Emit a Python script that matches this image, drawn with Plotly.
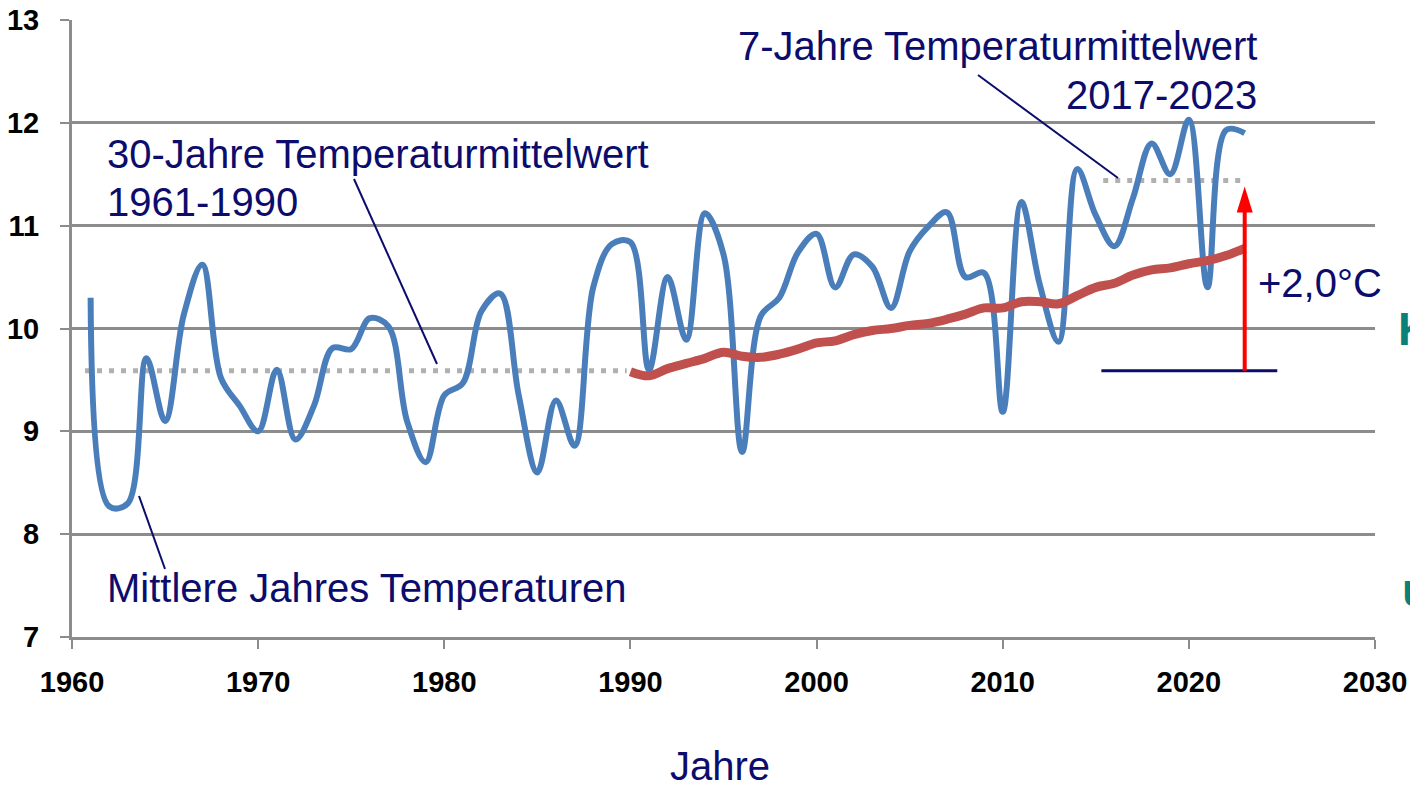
import plotly.graph_objects as go

# ---- data -------------------------------------------------------------
years = list(range(1961, 2024))
annual_temp = [10.30, 8.27, 8.30, 9.71, 9.10, 10.13, 10.62, 9.52, 9.25, 9.00,
               9.60, 8.92, 9.25, 9.81, 9.80, 10.10, 10.02, 9.10, 8.70, 9.35,
               9.47, 10.17, 10.34, 9.35, 8.60, 9.30, 8.86, 10.40, 10.82, 10.84,
               9.60, 10.50, 9.89, 11.12, 10.72, 8.80, 10.12, 10.30, 10.74, 10.92,
               10.40, 10.72, 10.60, 10.20, 10.75, 10.99, 11.13, 10.50, 10.54, 9.19,
               11.23, 10.42, 9.87, 11.55, 11.10, 10.80, 11.27, 11.80, 11.50, 12.03,
               10.40, 11.93, 11.90]

trend_years = list(range(1990, 2024))
trend_temp = [9.58, 9.54, 9.61, 9.66, 9.71, 9.77, 9.73, 9.72, 9.75, 9.80,
              9.86, 9.88, 9.94, 9.98, 10.00, 10.03, 10.05, 10.09, 10.14, 10.20,
              10.20, 10.26, 10.26, 10.24, 10.32, 10.40, 10.44, 10.52, 10.57, 10.59,
              10.63, 10.66, 10.71, 10.78]

mean_30y = 9.59
mean_30y_span = [1960.7, 1989.8]
mean_7y = 11.44
mean_7y_span = [2015.4, 2023.1]
baseline_span = [2015.3, 2024.75]
arrow_x = 2023.0
arrow_top = 11.38
delta_label = "+2,0°C"

x_ticks = [1960, 1970, 1980, 1990, 2000, 2010, 2020, 2030]
y_ticks = [7, 8, 9, 10, 11, 12, 13]

# ---- styling ----------------------------------------------------------
NAVY = "#0c0c6c"
GRID = "#8c8c8c"
TEXT_FONT = "Liberation Sans, Arial, sans-serif"
TICK_FONT = "Liberation Sans, Arial, sans-serif"

W, H = 1410, 788
ML, MR, MT, MB = 72, 35, 20, 151


def fx(px):
    return (px - ML) / (W - ML - MR)


def fy(py):
    return (H - MB - py) / (H - MT - MB)


fig = go.Figure()

# reference means (dotted)
fig.add_trace(go.Scatter(x=mean_30y_span, y=[mean_30y, mean_30y], mode="lines",
                         line=dict(color="#b0b0b0", width=5, dash="5px,7px"),
                         hoverinfo="skip", showlegend=False))
fig.add_trace(go.Scatter(x=mean_7y_span, y=[mean_7y, mean_7y], mode="lines",
                         line=dict(color="#b0b0b0", width=5, dash="5px,7px"),
                         hoverinfo="skip", showlegend=False))

# annual mean temperatures
fig.add_trace(go.Scatter(x=years, y=annual_temp, mode="lines",
                         line=dict(color="#4a7ebb", width=6, shape="spline", smoothing=1.0),
                         showlegend=False))

# running mean
fig.add_trace(go.Scatter(x=trend_years, y=trend_temp, mode="lines",
                         line=dict(color="#c0504d", width=9, shape="spline", smoothing=1.0),
                         showlegend=False))

shapes = [
    # baseline of the increase
    dict(type="line", xref="x", yref="y", x0=baseline_span[0], x1=baseline_span[1],
         y0=mean_30y, y1=mean_30y, line=dict(color=NAVY, width=3)),
    # arrow shaft
    dict(type="line", xref="x", yref="y", x0=arrow_x, x1=arrow_x,
         y0=mean_30y, y1=arrow_top - 0.15, line=dict(color="#ff0000", width=4)),
    # arrow head
    dict(type="path", xref="x", yref="y", xsizemode="pixel", ysizemode="pixel",
         xanchor=arrow_x, yanchor=arrow_top,
         path="M0,0 L-8,-26 L8,-26 Z", fillcolor="#ff0000", line=dict(width=0)),
    # leader lines
    dict(type="line", xref="paper", yref="paper", x0=fx(139), y0=fy(496), x1=fx(165), y1=fy(569),
         line=dict(color=NAVY, width=2)),
    dict(type="line", xref="paper", yref="paper", x0=fx(354), y0=fy(179), x1=fx(437), y1=fy(364),
         line=dict(color=NAVY, width=2)),
    dict(type="line", xref="paper", yref="paper", x0=fx(978), y0=fy(75), x1=fx(1118), y1=fy(178),
         line=dict(color=NAVY, width=2)),
]


def label(text, px, py, anchor="left", size=40, color=NAVY, bold=False):
    return dict(text=f"<b>{text}</b>" if bold else text, xref="paper", yref="paper",
                x=fx(px), y=fy(py), xanchor=anchor, yanchor="middle", showarrow=False,
                font=dict(family=TEXT_FONT, size=size, color=color))


annotations = [
    label("30-Jahre Temperaturmittelwert", 105, 154),
    label("1961-1990", 105, 202),
    label("7-Jahre Temperaturmittelwert", 1259, 46, anchor="right"),
    label("2017-2023", 1259, 95, anchor="right"),
    label("Mittlere Jahres Temperaturen", 105, 588),
    label(delta_label, 1256, 283),
    label("Jahre", 720, 766, anchor="center"),
    label("K", 1396, 329, size=46, color="#0a8078", bold=True),
    label("u", 1400, 590, size=46, color="#0a8078", bold=True),
]

tick_font = dict(family=TICK_FONT, size=29, color="black", weight="bold")

fig.update_layout(
    width=W, height=H,
    margin=dict(l=ML, r=MR, t=MT, b=MB, pad=0, autoexpand=False),
    paper_bgcolor="white", plot_bgcolor="white",
    shapes=shapes, annotations=annotations,
    showlegend=False,
    xaxis=dict(range=[1960, 2030], tickvals=x_ticks, ticktext=[str(v) for v in x_ticks],
               automargin=False, showgrid=False, zeroline=False,
               showline=True, linecolor=GRID, linewidth=3,
               ticks="outside", ticklen=9, tickwidth=2, tickcolor=GRID,
               ticklabelstandoff=8, tickfont=tick_font),
    yaxis=dict(range=[7, 13], tickvals=y_ticks, ticktext=[str(v) for v in y_ticks],
               automargin=False, showgrid=True, gridcolor=GRID, gridwidth=3, zeroline=False,
               showline=True, linecolor=GRID, linewidth=3,
               ticks="outside", ticklen=9, tickwidth=2, tickcolor=GRID,
               ticklabelstandoff=15, tickfont=tick_font),
)

fig.write_html("out.html")
